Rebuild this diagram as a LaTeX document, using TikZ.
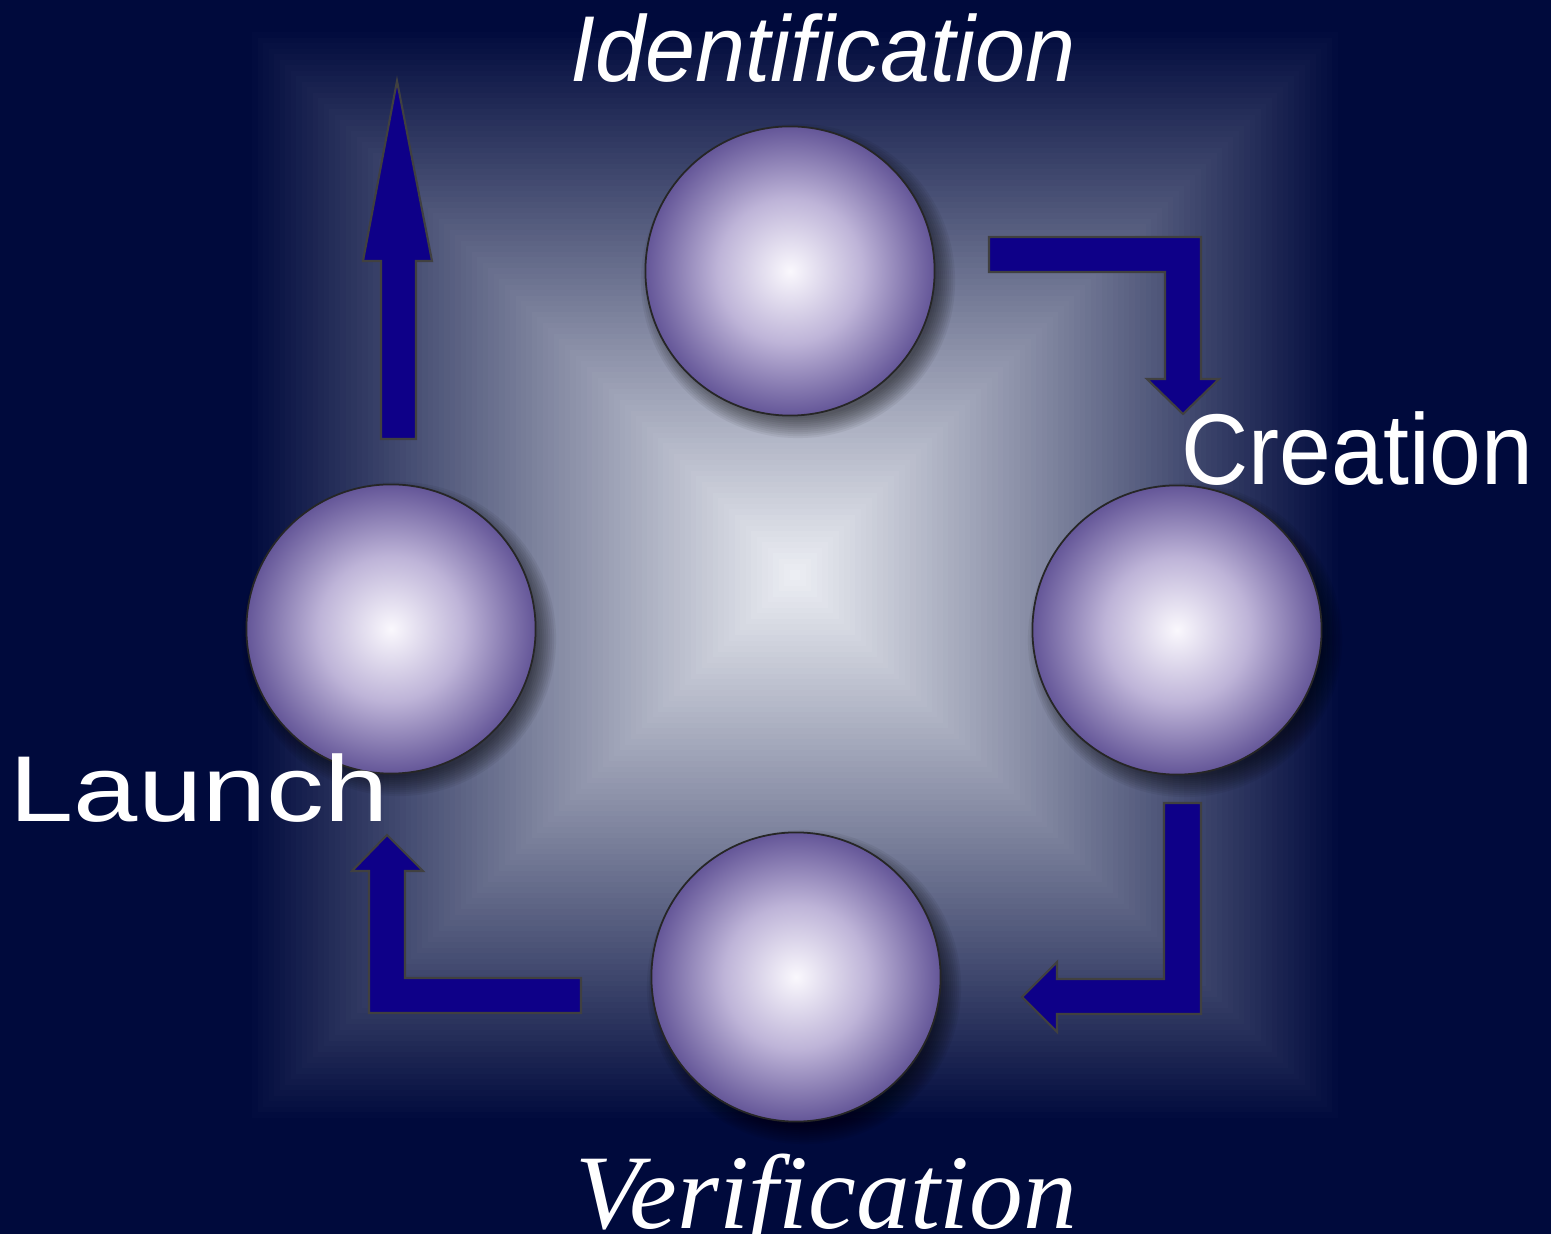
\documentclass[tikz,border=0pt]{standalone}
\usepackage{fontspec}
\setmainfont{Liberation Sans}
\newfontfamily\serifit{Liberation Serif}
\usetikzlibrary{calc}
\definecolor{bgc}{RGB}{0,10,60}
\definecolor{pyrlight}{RGB}{238,240,245}
\definecolor{arrowc}{RGB}{14,0,136}
\definecolor{sph0}{RGB}{250,248,253}
\definecolor{sph1}{RGB}{190,180,216}
\definecolor{sph2}{RGB}{100,86,152}
\pgfdeclareradialshading{spherebody}{\pgfpoint{0bp}{0bp}}{color(0bp)=(sph0); color(12.5bp)=(sph1); color(25bp)=(sph2); color(50bp)=(sph2)}
\begin{document}
\begin{tikzpicture}[x=0.01cm,y=-0.01cm,
  spherenode/.style={circle, minimum size=2.89cm, inner sep=0pt, outer sep=0pt, shading=spherebody, draw=black!85, line width=0.5pt},
  blockarrow/.style={fill=arrowc, draw=black!75, line width=0.6pt, line join=miter},
  txt/.style={text=white, inner sep=0pt, anchor=base west}]
\useasboundingbox (0,0) rectangle (1551,1234);
\fill[bgc] (0,0) rectangle (1551,1234);
% pyramid gradient square
\foreach \i in {0,...,99}{
  \pgfmathsetmacro{\s}{548*(1-\i/100)}
  \fill[pyrlight!\i!bgc] (795-\s,575-\s) rectangle (795+\s,575+\s);
}
% sphere centres
\coordinate (cI) at (790,271);
\coordinate (cL) at (391,629);
\coordinate (cC) at (1177,630);
\coordinate (cV) at (796,977);
% soft shadows
\foreach \n in {cI,cL,cC,cV}{
  \foreach \k in {0,...,10}{
    \fill[black,opacity=0.055] ([shift={(8,10)}]\n) circle[radius={1.37cm+\k*0.02cm}];
  }
}
% spheres
\node[spherenode] (ident) at (cI) {};
\node[spherenode] (launch) at (cL) {};
\node[spherenode] (creat) at (cC) {};
\node[spherenode] (verif) at (cV) {};
% block arrows
\draw[blockarrow] (989,237) -- (1201,237) -- (1201,379) -- (1219,379) -- (1183,414) -- (1147,379) -- (1165,379) -- (1165,272) -- (989,272) -- cycle;
\draw[blockarrow] (1164,803) -- (1201,803) -- (1201,1014) -- (1057,1014) -- (1057,1032) -- (1022,997) -- (1057,962) -- (1057,979) -- (1164,979) -- cycle;
\draw[blockarrow] (581,978) -- (581,1013) -- (369,1013) -- (369,871) -- (352,871) -- (387,835) -- (423,871) -- (405,871) -- (405,978) -- cycle;
\draw[blockarrow] (381,439) -- (416,439) -- (416,261) -- (432,261) -- (397,81) -- (363,261) -- (381,261) -- cycle;
% labels
\node[txt, font=\fontsize{26.6}{30}\selectfont\itshape] (tI) at (570,82) {\scalebox{0.962}[1]{Identification}};
\node[txt, font=\fontsize{28.6}{32}\selectfont] (tC) at (1181,485) {\scalebox{0.925}[1]{Creation}};
\node[txt, font=\fontsize{26.6}{30}\selectfont] (tL) at (9,822) {\scalebox{1.235}[1]{Launch}};
\node[txt, font=\fontsize{30.1}{34}\selectfont\serifit\itshape] (tV) at (575,1228) {\scalebox{1.015}[1]{Verification}};
\end{tikzpicture}
\end{document}
